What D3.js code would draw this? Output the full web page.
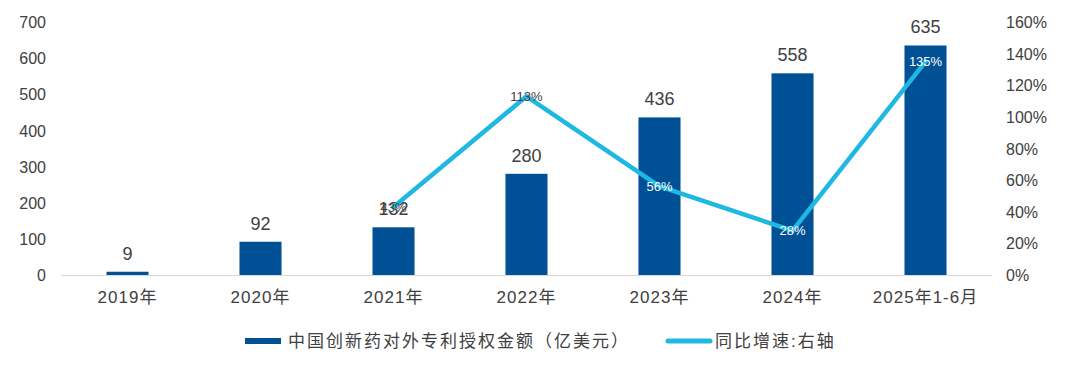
<!DOCTYPE html>
<html>
<head>
<meta charset="utf-8">
<script src="https://cdn.jsdelivr.net/npm/d3@7"></script>
<style>
  body { margin: 0; background: #fff; }
  svg text { font-family: "Liberation Sans", Arial, "Noto Sans CJK SC", sans-serif; }
</style>
</head>
<body>
<svg id="chart" width="1069" height="370"></svg>
<script>
// data
var years = ["2019年", "2020年", "2021年", "2022年", "2023年", "2024年", "2025年1-6月"];
var amounts = [9, 92, 132, 280, 436, 558, 635];
var growth = [null, null, 0.43, 1.13, 0.56, 0.28, 1.35];
var growthLabels = ["", "", "43%", "113%", "56%", "28%", "135%"];
var leftTicks = [0, 100, 200, 300, 400, 500, 600, 700];
var rightTicks = [0, 0.2, 0.4, 0.6, 0.8, 1.0, 1.2, 1.4, 1.6];

var barColor = "#005096", lineColor = "#1fb8e3", textColor = "#404040";

var svg = d3.select("#chart");
var margin = {left: 61, right: 992, top: 22, bottom: 275};

var x = d3.scaleBand().domain(years).range([margin.left, margin.right]).paddingInner(0.684).paddingOuter(0.342);
var yL = d3.scaleLinear().domain([0, 700]).range([margin.bottom, margin.top]);
var yR = d3.scaleLinear().domain([0, 1.6]).range([margin.bottom, margin.top]);

// left axis
var gL = svg.append("g").attr("transform", "translate(46,0)")
    .call(d3.axisLeft(yL).tickValues(leftTicks).tickSize(0).tickPadding(0));
gL.select(".domain").remove();
gL.selectAll("text").attr("font-size", 16).attr("fill", textColor).attr("dy", "0.35em");

// right axis
var gR = svg.append("g").attr("transform", "translate(1006,0)")
    .call(d3.axisRight(yR).tickValues(rightTicks).tickSize(0).tickPadding(0).tickFormat(d3.format(".0%")));
gR.select(".domain").remove();
gR.selectAll("text").attr("font-size", 16).attr("fill", textColor).attr("dy", "0.35em");

// x axis
var gX = svg.append("g").attr("transform", "translate(0," + margin.bottom + ")")
    .call(d3.axisBottom(x).tickSize(0).tickPadding(16));
gX.select(".domain").attr("stroke", "#d9d9d9").attr("stroke-width", 1)
    .attr("d", "M" + margin.left + ",0.5H" + margin.right);
gX.selectAll("text").attr("font-size", 17).attr("fill", textColor)
    .attr("letter-spacing", "1px");

// bars
svg.selectAll("rect.bar").data(amounts).enter().append("rect")
    .attr("class", "bar")
    .attr("x", function(d, i) { return x(years[i]); })
    .attr("width", x.bandwidth())
    .attr("y", function(d) { return yL(d); })
    .attr("height", function(d) { return yL(0) - yL(d); })
    .attr("fill", barColor);

svg.selectAll("text.barlabel").data(amounts).enter().append("text")
    .attr("class", "barlabel")
    .attr("x", function(d, i) { return x(years[i]) + x.bandwidth() / 2; })
    .attr("y", function(d) { return yL(d) - 12; })
    .attr("text-anchor", "middle")
    .attr("font-size", 18)
    .attr("fill", textColor)
    .text(function(d) { return d; });

// line
var pts = growth.map(function(d, i) { return {v: d, i: i}; }).filter(function(d) { return d.v != null; });
var line = d3.line()
    .x(function(d) { return x(years[d.i]) + x.bandwidth() / 2; })
    .y(function(d) { return yR(d.v); });
svg.append("path").datum(pts)
    .attr("d", line)
    .attr("fill", "none")
    .attr("stroke", lineColor)
    .attr("stroke-width", 4.5)
    .attr("stroke-linecap", "round")
    .attr("stroke-linejoin", "round");

svg.selectAll("text.linelabel").data(pts).enter().append("text")
    .attr("class", "linelabel")
    .attr("x", function(d) { return x(years[d.i]) + x.bandwidth() / 2; })
    .attr("y", function(d) { return yR(d.v); })
    .attr("dy", "0.35em")
    .attr("text-anchor", "middle")
    .attr("font-size", 13)
    .attr("fill", function(d) { return yR(d.v) > yL(amounts[d.i]) ? "#ffffff" : textColor; })
    .text(function(d) { return growthLabels[d.i]; });

// legend
var lg = svg.append("g").attr("font-size", 17).attr("fill", textColor)
    .attr("font-family", "'Noto Sans CJK SC', sans-serif").attr("letter-spacing", "2px");
lg.append("rect").attr("x", 245).attr("y", 338).attr("width", 36).attr("height", 6).attr("fill", barColor);
lg.append("text").attr("x", 288).attr("y", 341).attr("dy", "0.35em")
    .text("中国创新药对外专利授权金额（亿美元）");
lg.append("line").attr("x1", 668).attr("x2", 710).attr("y1", 341).attr("y2", 341)
    .attr("stroke", lineColor).attr("stroke-width", 5).attr("stroke-linecap", "round");
lg.append("text").attr("x", 715).attr("y", 341).attr("dy", "0.35em")
    .text("同比增速:右轴");
</script>
</body>
</html>
